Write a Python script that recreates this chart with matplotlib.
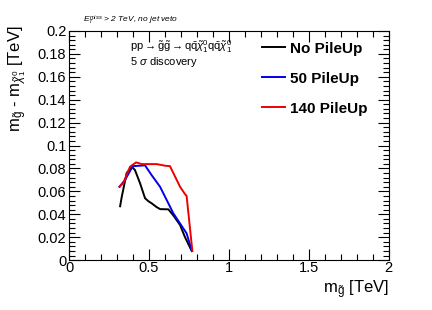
import matplotlib
matplotlib.use("Agg")
import matplotlib.pyplot as plt
from matplotlib.ticker import MultipleLocator

plt.rcParams['font.family'] = ['Liberation Sans', 'DejaVu Sans']
plt.rcParams['mathtext.fontset'] = 'custom'
plt.rcParams['mathtext.rm'] = 'Liberation Sans'
plt.rcParams['mathtext.it'] = 'Liberation Sans:italic'
plt.rcParams['mathtext.bf'] = 'Liberation Sans:bold'

# gluino mass [TeV] vs mass splitting [TeV], 5 sigma discovery contours
nopu_x = [0.319, 0.329, 0.360, 0.392, 0.412, 0.444, 0.475, 0.495, 0.517, 0.545, 0.569, 0.621, 0.652, 0.694, 0.725, 0.767]
nopu_y = [0.047, 0.055, 0.076, 0.0815, 0.0786, 0.067, 0.054, 0.0515, 0.0495, 0.0465, 0.0445, 0.0443, 0.039, 0.0306, 0.020, 0.0079]

pu50_x = [0.315, 0.350, 0.398, 0.475, 0.517, 0.569, 0.621, 0.652, 0.694, 0.735, 0.767]
pu50_y = [0.064, 0.070, 0.082, 0.0827, 0.074, 0.064, 0.0495, 0.0408, 0.032, 0.0233, 0.0087]

pu140_x = [0.315, 0.340, 0.381, 0.419, 0.454, 0.548, 0.600, 0.631, 0.694, 0.725, 0.735, 0.771]
pu140_y = [0.064, 0.0675, 0.0815, 0.0853, 0.0838, 0.0838, 0.0824, 0.082, 0.064, 0.0576, 0.056, 0.0079]

labels = ["No PileUp", "50 PileUp", "140 PileUp"]
colors = ["black", "#0000ee", "#ee0000"]

xticks = [0, 0.5, 1, 1.5, 2]
xticklabels = ["0", "0.5", "1", "1.5", "2"]
yticks = [0, 0.02, 0.04, 0.06, 0.08, 0.1, 0.12, 0.14, 0.16, 0.18, 0.2]
yticklabels = ["0", "0.02", "0.04", "0.06", "0.08", "0.1", "0.12", "0.14", "0.16", "0.18", "0.2"]

fig = plt.figure(figsize=(4.32, 3.10), dpi=100)
ax = fig.add_axes([0.16, 0.161, 0.74, 0.739])

for xs, ys, lab, c in zip([nopu_x, pu50_x, pu140_x], [nopu_y, pu50_y, pu140_y], labels, colors):
    ax.plot(xs, ys, color=c, lw=1.4, label=lab)

ax.set_xlim(0, 2)
ax.set_ylim(0, 0.2)
ax.set_xticks(xticks, xticklabels)
ax.set_yticks(yticks, yticklabels)
ax.xaxis.set_minor_locator(MultipleLocator(0.1))
ax.yaxis.set_minor_locator(MultipleLocator(0.004))
ax.tick_params(which='both', direction='in', top=True, right=True, labelsize=10.5)
ax.tick_params(which='major', length=8, width=0.8)
ax.tick_params(which='minor', length=4, width=0.8)
ax.tick_params(axis='x', pad=1)
ax.tick_params(axis='y', pad=2)

ax.set_xlabel(r'$\mathrm{m}_{\tilde{\mathrm{g}}}$ [TeV]', fontsize=12, loc='right', labelpad=2)
ax.set_ylabel(r'$\mathrm{m}_{\tilde{\mathrm{g}}}$ - $\mathrm{m}_{\tilde{\chi}_1^0}$ [TeV]', fontsize=12,
              loc='top', labelpad=2)
ax.yaxis.set_label_coords(-0.13, 1.025)

ax.text(0.19, 0.93, r'$\mathrm{pp}\rightarrow\tilde{\mathrm{g}}\tilde{\mathrm{g}}\rightarrow'
        r'\mathrm{q}\bar{\mathrm{q}}\tilde{\chi}_1^0\mathrm{q}\bar{\mathrm{q}}\tilde{\chi}_1^0$',
        transform=ax.transAxes, fontsize=8, va='center')
ax.text(0.19, 0.865, r'5 $\sigma$ discovery', transform=ax.transAxes, fontsize=8, va='center')
fig.text(0.192, 0.935, r'$E_{T}^{miss}$ > 2 TeV, no jet veto', fontsize=6, style='italic', va='center')

ax.legend(loc='upper left', bbox_to_anchor=(0.585, 0.98), frameon=False,
          prop={'weight': 'bold', 'size': 11}, handlelength=1.5, handletextpad=0.3,
          labelspacing=1.05, borderaxespad=0)

fig.savefig("out.png", dpi=100)
